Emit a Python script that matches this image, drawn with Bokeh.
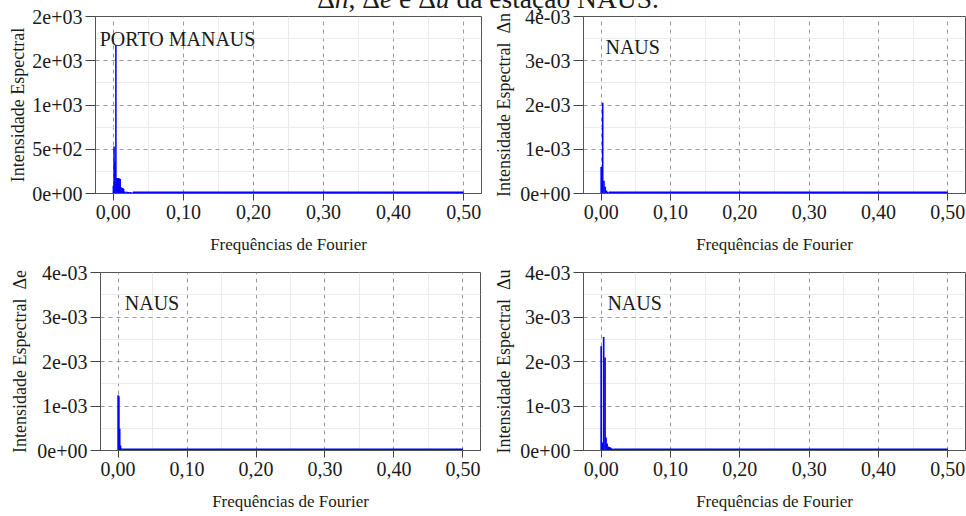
from bokeh.plotting import figure
from bokeh.layouts import row, column
from bokeh.models import FixedTicker, Label, Div, Range1d
from bokeh.embed import file_html
from bokeh.resources import INLINE

# ---------------- data ----------------
title_text = 'Δ<i>n</i>, Δ<i>e</i> e Δ<i>u</i> da estação NAUS.'

# Panel 1: PORTO MANAUS
freq_pm = [0.0000, 0.0010, 0.0022, 0.0036, 0.0050, 0.0062, 0.0074, 0.0086, 0.0098,
           0.0110, 0.0122, 0.0134, 0.0146, 0.0160, 0.0180, 0.0200, 0.0220, 0.0240, 0.0260, 0.0280]
power_pm = [87, 530, 360, 1675, 175, 175, 175, 170, 165,
            70, 65, 62, 55, 22, 20, 19, 18, 16, 14, 12]
tail_freq_pm = [0.028, 0.05, 0.10, 0.20, 0.30, 0.40, 0.50]
tail_power_pm = [11, 10, 10, 10, 10, 10, 10]

# Panel 2: NAUS Δn
freq_n = [0.0000, 0.0022, 0.0040, 0.0058, 0.0076, 0.0094, 0.0112]
power_n = [6.0e-4, 2.05e-3, 2.9e-4, 1.5e-4, 7e-5, 4e-5, 2.5e-5]
tail_freq_n = [0.0112, 0.05, 0.10, 0.20, 0.30, 0.40, 0.50]
tail_power_n = [2e-5, 2e-5, 2e-5, 2e-5, 2e-5, 2e-5, 2e-5]

# Panel 3: NAUS Δe
freq_e = [0.0000, 0.0012, 0.0024, 0.0036, 0.0050, 0.0064]
power_e = [1.24e-3, 1.22e-3, 4.9e-4, 1.1e-4, 5e-5, 3e-5]
tail_freq_e = [0.0064, 0.05, 0.10, 0.20, 0.30, 0.40, 0.50]
tail_power_e = [2e-5, 2e-5, 2e-5, 2e-5, 2e-5, 2e-5, 2e-5]

# Panel 4: NAUS Δu
freq_u = [0.0000, 0.0018, 0.0036, 0.0056, 0.0070, 0.0086, 0.0102, 0.0118,
          0.0134, 0.0150, 0.0166, 0.0182]
power_u = [2.34e-3, 1.8e-4, 2.55e-3, 2.09e-3, 2.9e-4, 1.6e-4, 9e-5, 8e-5,
           7e-5, 5e-5, 4e-5, 3e-5]
tail_freq_u = [0.0182, 0.05, 0.10, 0.20, 0.30, 0.40, 0.50]
tail_power_u = [2e-5, 2e-5, 2e-5, 2e-5, 2e-5, 2e-5, 2e-5]

x_ticks = [0.0, 0.1, 0.2, 0.3, 0.4, 0.5]
x_minor = [0.05, 0.15, 0.25, 0.35, 0.45]
x_labels = ["0,00", "0,10", "0,20", "0,30", "0,40", "0,50"]

y_ticks_pm = [0, 500, 1000, 1500, 2000]
y_minor_pm = [250, 750, 1250, 1750]
y_labels_pm = ["0e+00", "5e+02", "1e+03", "2e+03", "2e+03"]

y_ticks_g = [0.0, 0.001, 0.002, 0.003, 0.004]
y_minor_g = [0.0005, 0.0015, 0.0025, 0.0035]
y_labels_g = ["0e+00", "1e-03", "2e-03", "3e-03", "4e-03"]

x_label = "Frequências de Fourier"
station_names = ["PORTO MANAUS", "NAUS", "NAUS", "NAUS"]
y_axis_labels = ["Intensidade Espectral",
                 "Intensidade Espectral\u00a0\u00a0Δn",
                 "Intensidade Espectral\u00a0\u00a0Δe",
                 "Intensidade Espectral\u00a0\u00a0Δu"]

SERIF = "Liberation Serif"
BLUE = "#0000ff"


def panel(w, h, borders, ymax, yt, ym, yl, freq, power, tf, tp, bar_w,
          name, name_xy, ylabel, ylab_standoff):
    bl, br, bt, bb = borders
    p = figure(width=w, height=h, output_backend="svg", toolbar_location=None,
               x_range=Range1d(-0.0255, 0.5255), y_range=Range1d(0, ymax),
               min_border_left=bl, min_border_right=br,
               min_border_top=bt, min_border_bottom=bb,
               background_fill_color="white", border_fill_color="white")
    p.outline_line_color = "#555555"
    p.outline_line_width = 1

    p.xaxis.ticker = FixedTicker(ticks=x_ticks, minor_ticks=x_minor)
    p.yaxis.ticker = FixedTicker(ticks=yt, minor_ticks=ym)
    p.xaxis.major_label_overrides = dict(zip(x_ticks, x_labels))
    p.yaxis.major_label_overrides = dict(zip(yt, yl))

    for ax in (p.xaxis[0], p.yaxis[0]):
        ax.axis_line_color = "#555555"
        ax.major_tick_line_color = "#444444"
        ax.major_tick_in = 0
        ax.minor_tick_in = 0
        ax.minor_tick_out = 0
        ax.major_label_text_font = SERIF
        ax.major_label_text_font_size = "20px"
        ax.major_label_text_color = "#1a1a1a"
        ax.axis_label_text_font = SERIF
        ax.axis_label_text_font_style = "normal"
        ax.axis_label_text_color = "#1a1a1a"

    p.xaxis.major_tick_out = 7
    p.xaxis.major_label_standoff = 4
    p.xaxis.axis_label = x_label
    p.xaxis.axis_label_text_font_size = "17px"
    p.xaxis.axis_label_standoff = 13

    p.yaxis.major_tick_out = 10
    p.yaxis.major_label_standoff = 3
    p.yaxis.axis_label = ylabel
    p.yaxis.axis_label_text_font_size = "18px"
    p.yaxis.axis_label_standoff = ylab_standoff

    for g in (p.xgrid, p.ygrid):
        g.grid_line_color = "#9a9a9a"
        g.grid_line_dash = "4 4"
        g.grid_line_width = 1
        g.minor_grid_line_color = "#ebebeb"
        g.minor_grid_line_width = 1

    p.vbar(x=freq, top=power, width=bar_w, bottom=0,
           fill_color=BLUE, line_color=None)
    p.line(tf, tp, line_color=BLUE, line_width=2)

    p.add_layout(Label(x=name_xy[0], y=name_xy[1], text=name,
                       text_font=SERIF, text_font_size="20px",
                       text_color="#1a1a1a", text_align="left",
                       text_baseline="alphabetic"))
    return p


p1 = panel(490, 264, (95, 9, 16, 71), 2000, y_ticks_pm, y_minor_pm, y_labels_pm,
           freq_pm, power_pm, tail_freq_pm, tail_power_pm, 0.0022,
           station_names[0], (-0.0195, 1749), y_axis_labels[0], 1)
p2 = panel(476, 264, (93, 1, 16, 71), 0.004, y_ticks_g, y_minor_g, y_labels_g,
           freq_n, power_n, tail_freq_n, tail_power_n, 0.0023,
           station_names[1], (0.0062, 0.00332), y_axis_labels[1], 3)
p3 = panel(490, 252, (100, 10, 8, 66), 0.004, y_ticks_g, y_minor_g, y_labels_g,
           freq_e, power_e, tail_freq_e, tail_power_e, 0.0023,
           station_names[2], (0.0097, 0.00332), y_axis_labels[2], 4)
p4 = panel(476, 252, (93, 1, 8, 66), 0.004, y_ticks_g, y_minor_g, y_labels_g,
           freq_u, power_u, tail_freq_u, tail_power_u, 0.0024,
           station_names[3], (0.0090, 0.00332), y_axis_labels[3], 3)

title = Div(text=title_text, width=966, height=27,
            styles={"position": "absolute", "top": "-20px", "left": "0px",
                    "width": "966px", "text-align": "center",
                    "font-family": SERIF, "font-size": "27.5px",
                    "line-height": "27px", "color": "#1a1a1a",
                    "z-index": "10"})

layout = column(title, row(p1, p2), row(p3, p4))

open("out.html", "w").write(file_html(layout, INLINE))
